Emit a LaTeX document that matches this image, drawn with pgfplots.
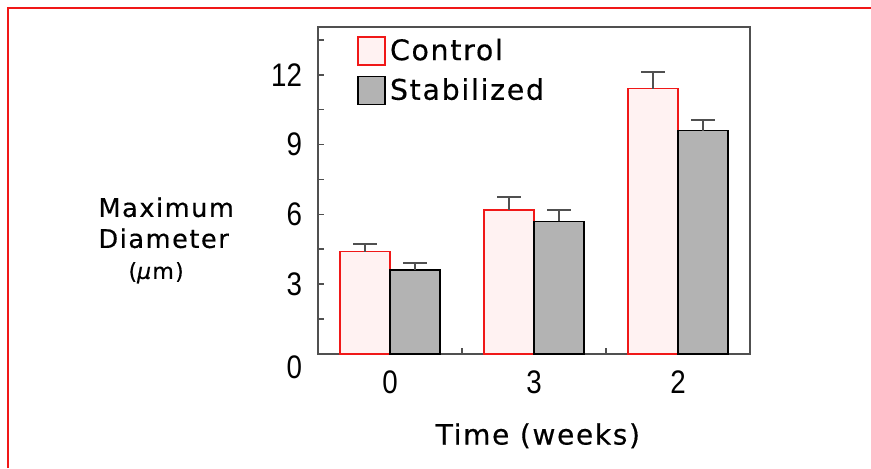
\documentclass[border=0pt]{standalone}
\usepackage{fontspec}
\setmainfont{DejaVu Sans}[LetterSpace=6.0, FakeBold=0.4]
\newfontfamily\tickfont{Liberation Sans}[FakeStretch=0.85]
\usepackage{pgfplots}
\pgfplotsset{compat=1.18}
\definecolor{ctrlfill}{HTML}{FFF2F2}
\definecolor{ctrledge}{HTML}{F01818}
\definecolor{stabfill}{HTML}{B3B3B3}
\definecolor{axgray}{HTML}{505050}
\begin{document}
\begin{tikzpicture}
\useasboundingbox (0,0) rectangle (435.5pt,234pt);
\draw[color=ctrledge, line width=0.8pt] (4pt,0pt) -- (4pt,230pt) -- (435.5pt,230pt);
\begin{axis}[
  at={(159pt,57pt)}, anchor=south west,
  scale only axis, width=216pt, height=163.5pt,
  xmin=-0.5, xmax=2.5, ymin=0, ymax=14.05,
  ybar=0pt, bar width=25pt,
  axis line style={color=axgray, line width=0.9pt},
  tick align=inside, tick pos=left,
  major tick length=3pt, minor tick length=3pt,
  every tick/.style={color=axgray, line width=0.8pt},
  xtick={0,1,2}, xticklabels={0,3,2},
  minor xtick={0.5,1.5},
  xtick style={draw=none},
  minor x tick style={draw=axgray, line width=0.8pt},
  ytick={3,6,9,12}, minor ytick={1.5,4.5,7.5,10.5,13.5},
  extra y ticks={0},
  extra y tick style={yticklabel style={yshift=-6.5pt}},
  /pgf/number format/assume math mode=true,
  ticklabel style={font=\tickfont\fontsize{16.3}{18}\selectfont},
  yticklabel style={xshift=-4.5pt},
  xticklabel style={yshift=-5pt},
  xlabel={Time (weeks)},
  xlabel style={font=\fontsize{14}{16}\selectfont, at={(axis description cs:0.509,-0.25)}, anchor=center},
  ylabel={Maximum\\Diameter\\\hspace*{15pt}{\fontsize{11}{12}\selectfont(\textit{μ}m)}},
  ylabel style={rotate=-90, align=left, font=\fontsize{12.8}{15.5}\selectfont, at={(axis description cs:-0.509,0.48)}, anchor=north west, inner sep=0pt},
  legend style={at={(axis description cs:0.0903,0.978)}, anchor=north west, draw=none, fill=none,
    font=\fontsize{14.2}{16}\selectfont, inner sep=0pt, row sep=3.5pt,
    cells={anchor=west}, /tikz/every even column/.style={column sep=3pt}},
  legend image code/.code={\draw[#1] (0pt,-7pt) rectangle (13.5pt,7pt);},
]
\addplot[fill=ctrlfill, draw=ctrledge, line width=0.8pt,
  error bars/.cd, y dir=plus, y explicit,
  error bar style={color=axgray, line width=1pt},
  error mark options={rotate=90, mark size=6pt, line width=1pt, color=axgray}]
  coordinates {(0,4.4) +- (0,0.33) (1,6.2) +- (0,0.55) (2,11.4) +- (0,0.7)};
\addlegendentry{Control}
\addplot[fill=stabfill, draw=black, line width=0.8pt,
  error bars/.cd, y dir=plus, y explicit,
  error bar style={color=axgray, line width=1pt},
  error mark options={rotate=90, mark size=6pt, line width=1pt, color=axgray}]
  coordinates {(0,3.6) +- (0,0.3) (1,5.7) +- (0,0.47) (2,9.6) +- (0,0.45)};
\addlegendentry{Stabilized}
\end{axis}
\end{tikzpicture}
\end{document}
